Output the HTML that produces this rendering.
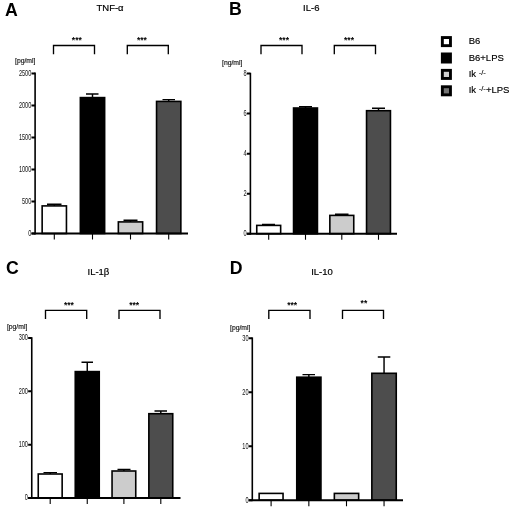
<!DOCTYPE html>
<html lang="en">
<head>
<meta charset="utf-8">
<title>Cytokine levels</title>
<style>
html,body{margin:0;padding:0;background:#fff}
body{width:520px;height:510px;overflow:hidden}
svg{display:block}
text{font-family:"Liberation Sans",Arial,Helvetica,sans-serif;fill:#000}
.L{font-size:17.7px;font-weight:bold}
.T{font-size:9.9px;stroke:#000;stroke-width:.2px}
.t{font-size:9.8px;text-anchor:end;fill:#111}
.u{font-size:6.5px;fill:#111;stroke:#111;stroke-width:.15px}
.s{font-size:8.5px;text-anchor:middle;font-weight:bold}
.g{font-size:9.5px;stroke:#000;stroke-width:.15px}
.sp{font-size:7.6px}
.a{fill:none;stroke:#000;stroke-width:1.6;stroke-linecap:butt;stroke-linejoin:miter}
.x{fill:none;stroke:#000;stroke-width:1.9}
.k{fill:none;stroke:#000;stroke-width:1.1}
.y{fill:none;stroke:#000;stroke-width:2}
.b{stroke:#000;stroke-width:1.6}
.e{fill:none;stroke:#000;stroke-width:1.45}
.r{fill:none;stroke:#000;stroke-width:1.35}
</style>
</head>
<body>
<svg width="520" height="510" viewBox="0 0 520 510">
<rect width="520" height="510" fill="#fff"/>
<g id="panelA">
<path d="M54.3 205.9V204.3M47 204.3H61.5" class="e"/>
<rect x="42.15" y="205.9" width="24.3" height="27.6" fill="#ffffff" class="b"/>
<path d="M92.5 97.6V94M86 94H98.5" class="e"/>
<rect x="80.35" y="97.6" width="24.3" height="135.9" fill="#000000" class="b"/>
<path d="M130.5 221.9V220.3M123.5 220.3H137.5" class="e"/>
<rect x="118.35" y="221.9" width="24.3" height="11.6" fill="#cccccc" class="b"/>
<path d="M168.7 101.4V99.6M162.5 99.6H175" class="e"/>
<rect x="156.55" y="101.4" width="24.3" height="132.1" fill="#4d4d4d" class="b"/>
<path d="M35.1 72.6V234.4" class="a"/>
<path d="M31.5 233.5H188" class="x"/>
<text x="31.3" y="236" class="t" transform="translate(31.3 0) scale(.57 1) translate(-31.3 0)">0</text>
<text x="31.3" y="203.98" class="t" transform="translate(31.3 0) scale(.57 1) translate(-31.3 0)">500</text>
<text x="31.3" y="171.96" class="t" transform="translate(31.3 0) scale(.57 1) translate(-31.3 0)">1000</text>
<text x="31.3" y="139.94" class="t" transform="translate(31.3 0) scale(.57 1) translate(-31.3 0)">1500</text>
<text x="31.3" y="107.92" class="t" transform="translate(31.3 0) scale(.57 1) translate(-31.3 0)">2000</text>
<text x="31.3" y="75.9" class="t" transform="translate(31.3 0) scale(.57 1) translate(-31.3 0)">2500</text>
<path d="M31.5 233.5H35.1M31.5 201.48H35.1M31.5 169.46H35.1M31.5 137.44H35.1M31.5 105.42H35.1M31.5 73.4H35.1" class="y"/>
<path d="M54.3 233.5V239.5M92.5 233.5V239.5M130.5 233.5V239.5M168.7 233.5V239.5" class="k"/>
<text x="15" y="63" class="u" transform="translate(15 0) scale(1.05 1) translate(-15 0)">[pg/ml]</text>
<path d="M53.5 54.2V45.5H94.5V54.2" class="r"/>
<text x="76.8" y="43" class="s">***</text>
<path d="M127.3 54.2V45.5H168.3V54.2" class="r"/>
<text x="141.9" y="43" class="s">***</text>
<text x="4.9" y="15.9" class="L">A</text>
<text x="96.5" y="10.9" class="T" transform="translate(96.5 0) scale(.96 1) translate(-96.5 0)">TNF-α</text>
</g>
<g id="panelB">
<path d="M268.7 225.4V224.4M262 224.4H275" class="e"/>
<rect x="256.75" y="225.4" width="23.9" height="8.3" fill="#ffffff" class="b"/>
<path d="M305.5 108V106.7M299 106.7H312" class="e"/>
<rect x="293.55" y="108" width="23.9" height="125.7" fill="#000000" class="b"/>
<path d="M341.8 215.4V214.2M335 214.2H348.5" class="e"/>
<rect x="329.85" y="215.4" width="23.9" height="18.3" fill="#cccccc" class="b"/>
<path d="M378.5 110.7V108.3M372 108.3H385" class="e"/>
<rect x="366.55" y="110.7" width="23.9" height="123" fill="#4d4d4d" class="b"/>
<path d="M250.4 72.8V234.6" class="a"/>
<path d="M246.8 233.7H397" class="x"/>
<text x="246.6" y="236.2" class="t" transform="translate(246.6 0) scale(.57 1) translate(-246.6 0)">0</text>
<text x="246.6" y="196.17" class="t" transform="translate(246.6 0) scale(.57 1) translate(-246.6 0)">2</text>
<text x="246.6" y="156.15" class="t" transform="translate(246.6 0) scale(.57 1) translate(-246.6 0)">4</text>
<text x="246.6" y="116.12" class="t" transform="translate(246.6 0) scale(.57 1) translate(-246.6 0)">6</text>
<text x="246.6" y="76.1" class="t" transform="translate(246.6 0) scale(.57 1) translate(-246.6 0)">8</text>
<path d="M246.8 233.7H250.4M246.8 193.67H250.4M246.8 153.65H250.4M246.8 113.62H250.4M246.8 73.6H250.4" class="y"/>
<path d="M268.7 233.7V239.7M305.5 233.7V239.7M341.8 233.7V239.7M378.5 233.7V239.7" class="k"/>
<text x="222" y="65.2" class="u" transform="translate(222 0) scale(1.05 1) translate(-222 0)">[ng/ml]</text>
<path d="M261 54.2V45.5H302V54.2" class="r"/>
<text x="284" y="43" class="s">***</text>
<path d="M334.3 54.2V45.5H375.5V54.2" class="r"/>
<text x="349" y="43" class="s">***</text>
<text x="228.9" y="14.9" class="L">B</text>
<text x="303.1" y="10.9" class="T" transform="translate(303.1 0) scale(.96 1) translate(-303.1 0)">IL-6</text>
</g>
<g id="panelC">
<path d="M50.2 474V472.6M43.5 472.6H57" class="e"/>
<rect x="38.25" y="474" width="23.9" height="24" fill="#ffffff" class="b"/>
<path d="M87.25 371.6V362.2M81.5 362.2H93" class="e"/>
<rect x="75.25" y="371.6" width="24" height="126.4" fill="#000000" class="b"/>
<path d="M123.9 471V469.4M117.5 469.4H130.5" class="e"/>
<rect x="112.05" y="471" width="23.7" height="27" fill="#cccccc" class="b"/>
<path d="M160.8 413.7V411M154.5 411H167" class="e"/>
<rect x="148.85" y="413.7" width="23.9" height="84.3" fill="#4d4d4d" class="b"/>
<path d="M31.75 337.2V498.9" class="a"/>
<path d="M28.15 498H180.5" class="x"/>
<text x="27.95" y="500.5" class="t" transform="translate(27.95 0) scale(.57 1) translate(-27.95 0)">0</text>
<text x="27.95" y="447.17" class="t" transform="translate(27.95 0) scale(.57 1) translate(-27.95 0)">100</text>
<text x="27.95" y="393.83" class="t" transform="translate(27.95 0) scale(.57 1) translate(-27.95 0)">200</text>
<text x="27.95" y="340.5" class="t" transform="translate(27.95 0) scale(.57 1) translate(-27.95 0)">300</text>
<path d="M28.15 498H31.75M28.15 444.67H31.75M28.15 391.33H31.75M28.15 338H31.75" class="y"/>
<path d="M50.2 498V504M87.25 498V504M123.9 498V504M160.8 498V504" class="k"/>
<text x="6.9" y="328.7" class="u" transform="translate(6.9 0) scale(1.05 1) translate(-6.9 0)">[pg/ml]</text>
<path d="M45.5 318.9V310.4H86.7V318.9" class="r"/>
<text x="68.9" y="307.7" class="s">***</text>
<path d="M119 318.9V310.4H160V318.9" class="r"/>
<text x="134.2" y="307.7" class="s">***</text>
<text x="6.1" y="273.7" class="L">C</text>
<text x="87.5" y="275.3" class="T" transform="translate(87.5 0) scale(.96 1) translate(-87.5 0)">IL-1β</text>
</g>
<g id="panelD">
<rect x="259.15" y="493.4" width="23.9" height="6.8" fill="#ffffff" class="b"/>
<path d="M308.85 377.2V374.6M302.5 374.6H315" class="e"/>
<rect x="296.75" y="377.2" width="24.2" height="123" fill="#000000" class="b"/>
<rect x="334.35" y="493.4" width="24.3" height="6.8" fill="#cccccc" class="b"/>
<path d="M384.05 373.3V357M377.8 357H390.3" class="e"/>
<rect x="371.85" y="373.3" width="24.4" height="126.9" fill="#4d4d4d" class="b"/>
<path d="M252.3 337.4V501.1" class="a"/>
<path d="M248.7 500.2H403" class="x"/>
<text x="248.5" y="502.7" class="t" transform="translate(248.5 0) scale(.57 1) translate(-248.5 0)">0</text>
<text x="248.5" y="448.7" class="t" transform="translate(248.5 0) scale(.57 1) translate(-248.5 0)">10</text>
<text x="248.5" y="394.7" class="t" transform="translate(248.5 0) scale(.57 1) translate(-248.5 0)">20</text>
<text x="248.5" y="340.7" class="t" transform="translate(248.5 0) scale(.57 1) translate(-248.5 0)">30</text>
<path d="M248.7 500.2H252.3M248.7 446.2H252.3M248.7 392.2H252.3M248.7 338.2H252.3" class="y"/>
<path d="M271.1 500.2V506.2M308.85 500.2V506.2M346.5 500.2V506.2M384.05 500.2V506.2" class="k"/>
<text x="230" y="329.6" class="u" transform="translate(230 0) scale(1.05 1) translate(-230 0)">[pg/ml]</text>
<path d="M268.8 318.9V310.4H310V318.9" class="r"/>
<text x="292.1" y="307.7" class="s">***</text>
<path d="M342.5 318.9V310.4H383.5V318.9" class="r"/>
<text x="363.9" y="306.2" class="s">**</text>
<text x="229.7" y="273.9" class="L">D</text>
<text x="311.2" y="275.5" class="T" transform="translate(311.2 0) scale(.96 1) translate(-311.2 0)">IL-10</text>
</g>
<g id="legend">
<rect x="440.9" y="36.1" width="11" height="11" fill="#000"/><rect x="443.8" y="39" width="5.2" height="5.2" fill="#ffffff"/>
<text x="468.7" y="44.2" class="g">B6</text>
<rect x="440.9" y="52.5" width="11" height="11" fill="#000"/><rect x="443.8" y="55.4" width="5.2" height="5.2" fill="#000000"/>
<text x="468.7" y="60.6" class="g">B6+LPS</text>
<rect x="440.9" y="68.9" width="11" height="11" fill="#000"/><rect x="443.8" y="71.8" width="5.2" height="5.2" fill="#d0d0d0"/>
<text x="468.7" y="77" class="g">Ik <tspan class="sp" dy="-2.2">-/-</tspan></text>
<rect x="440.9" y="85.3" width="11" height="11" fill="#000"/><rect x="443.8" y="88.2" width="5.2" height="5.2" fill="#747474"/>
<text x="468.7" y="93.4" class="g">Ik <tspan class="sp" dy="-2.2">-/-</tspan><tspan dy="2.2">+LPS</tspan></text>
</g>
</svg>
</body>
</html>
